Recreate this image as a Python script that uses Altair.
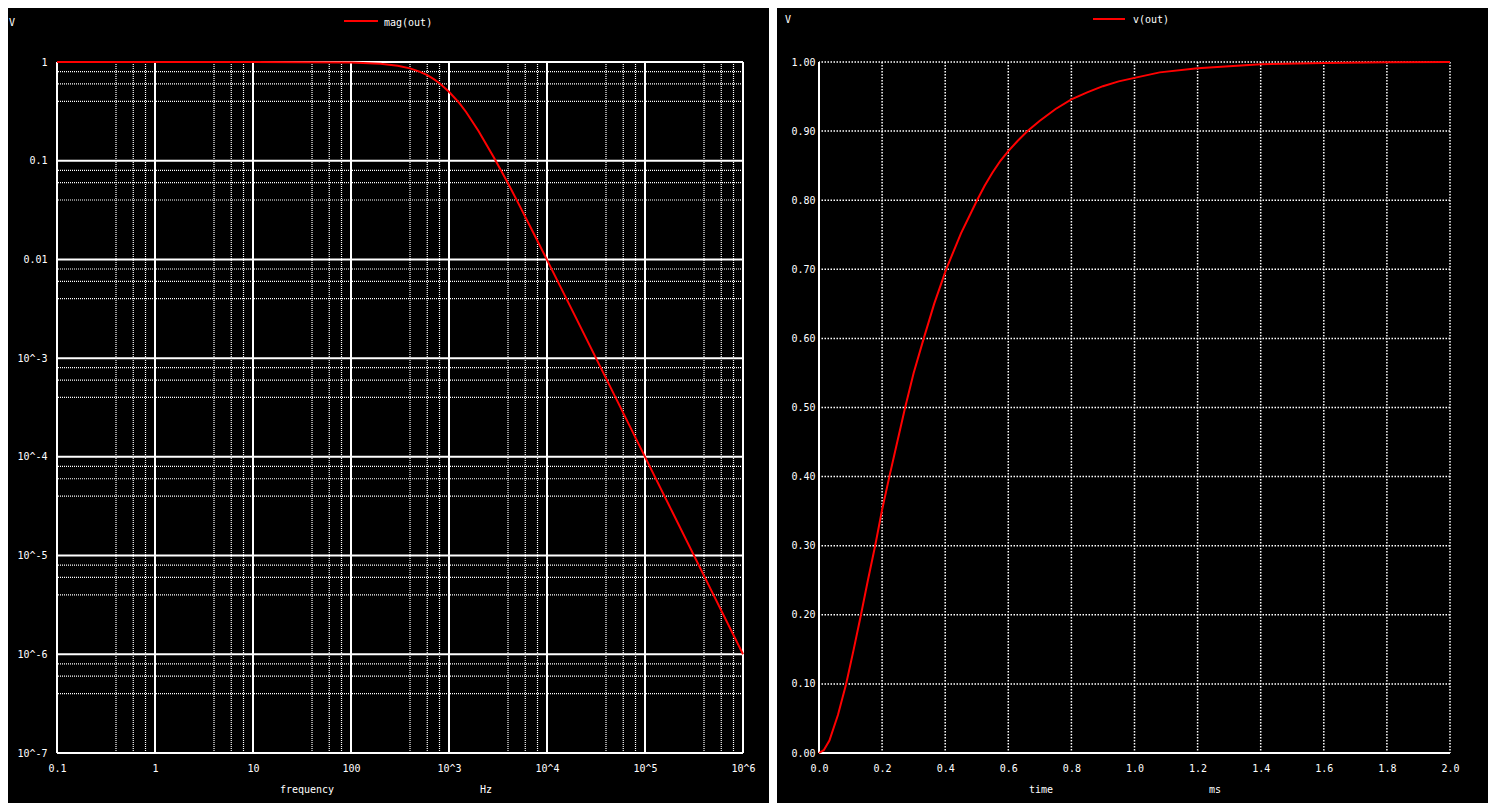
import json
import altair as alt
import pandas as pd

# ---------------- data ----------------
# AC analysis: mag(out) vs frequency (Hz)
freq = [0.1, 1, 10, 100, 200, 300, 400, 500, 600, 700, 800, 1000, 1270, 1500,
        2000, 2900, 4000, 5000, 7000, 10000, 20000, 50000, 100000, 200000,
        500000, 1000000]
mag = [1.0, 1.0, 1.0, 0.99, 0.962, 0.917, 0.862, 0.80, 0.735, 0.671, 0.61,
       0.50, 0.385, 0.31, 0.20, 0.106, 0.059, 0.0385, 0.020, 0.0099, 0.0025,
       0.0004, 0.0001, 0.000025, 0.000004, 0.000001]

# transient: v(out) vs time (ms)
time_ms = [0.0, 0.015, 0.033, 0.06, 0.086, 0.11, 0.133, 0.155, 0.178, 0.2,
           0.223, 0.248, 0.273, 0.30, 0.332, 0.365, 0.403, 0.45, 0.501, 0.525,
           0.55, 0.575, 0.60, 0.63, 0.661, 0.70, 0.75, 0.80, 0.85, 0.90, 0.95,
           1.00, 1.08, 1.2, 1.3, 1.4, 1.6, 1.8, 2.0]
v_out = [0.0, 0.004, 0.018, 0.055, 0.10, 0.15, 0.20, 0.25, 0.30, 0.352,
         0.40, 0.45, 0.50, 0.55, 0.60, 0.65, 0.70, 0.752, 0.80, 0.821,
         0.84, 0.857, 0.871, 0.886, 0.90, 0.915, 0.932, 0.946, 0.956, 0.965,
         0.972, 0.977, 0.985, 0.991, 0.994, 0.9967, 0.9986, 0.9995, 1.0]

# tick / grid positions and labels
x_major = [0.1, 1, 10, 100, 1000, 10000, 100000, 1000000]
x_major_labels = ["0.1", "1", "10", "100", "10^3", "10^4", "10^5", "10^6"]
y_major = [1e-7, 1e-6, 1e-5, 1e-4, 1e-3, 0.01, 0.1, 1]
y_major_labels = ["10^-7", "10^-6", "10^-5", "10^-4", "10^-3", "0.01", "0.1", "1"]
minor_mult = [4, 6, 8]
x_minor = [d * m for d in x_major[:-1] for m in minor_mult]
y_minor = [d * m for d in y_major[:-1] for m in minor_mult]

t_ticks = [0.0, 0.2, 0.4, 0.6, 0.8, 1.0, 1.2, 1.4, 1.6, 1.8, 2.0]
v_ticks = [0.0, 0.1, 0.2, 0.3, 0.4, 0.5, 0.6, 0.7, 0.8, 0.9, 1.0]

FONT = "DejaVu Sans Mono"
FS = 10
RED = "#ff0000"
LW, LH = 686, 691
RW, RH = 631, 691

one = pd.DataFrame({"k": [0]})


def label_expr(values, labels):
    return f"{json.dumps(labels)}[indexof({json.dumps(values)}, datum.value)]"


def txt(s, x, y, align="left"):
    return alt.Chart(one).mark_text(text=s, font=FONT, fontSize=FS, color="white",
                                    align=align, baseline="middle").encode(
        x=alt.value(x), y=alt.value(y))


def rect(x, x2, y, y2, color):
    return alt.Chart(one).mark_rect(color=color).encode(
        x=alt.value(x), x2=alt.value(x2), y=alt.value(y), y2=alt.value(y2))


def legend(x1, x2, y, label, tx, ty):
    r = alt.Chart(one).mark_rule(color=RED, strokeWidth=2).encode(
        x=alt.value(x1), x2=alt.value(x2), y=alt.value(y))
    return r + txt(label, tx, ty)


# ---------------- left panel ----------------
xs_l = alt.Scale(type="log", domain=[0.1, 1e6], nice=False)
ys_l = alt.Scale(type="log", domain=[1e-7, 1], nice=False)
ax_lx = alt.Axis(values=x_major, labelExpr=label_expr(x_major, x_major_labels),
                 title=None, labelPadding=10, labelBaseline="top")
ax_ly = alt.Axis(values=y_major, labelExpr=label_expr(y_major, y_major_labels),
                 title=None, labelPadding=10)

l_minor_x = alt.Chart(pd.DataFrame({"f": x_minor})).mark_rule(
    color="white", strokeWidth=1.2, strokeDash=[1, 1]).encode(
    x=alt.X("f:Q", scale=xs_l, axis=ax_lx))
l_minor_y = alt.Chart(pd.DataFrame({"v": y_minor})).mark_rule(
    color="white", strokeWidth=1.2, strokeDash=[1, 1]).encode(
    y=alt.Y("v:Q", scale=ys_l, axis=ax_ly))
l_major_x = alt.Chart(pd.DataFrame({"f": x_major})).mark_rule(
    color="white", strokeWidth=2).encode(x=alt.X("f:Q", scale=xs_l, axis=ax_lx))
l_major_y = alt.Chart(pd.DataFrame({"v": y_major})).mark_rule(
    color="white", strokeWidth=2).encode(y=alt.Y("v:Q", scale=ys_l, axis=ax_ly))

l_line = alt.Chart(pd.DataFrame({"f": freq, "v": mag})).mark_line(
    color=RED, strokeWidth=2).encode(
    x=alt.X("f:Q", scale=xs_l, axis=ax_lx),
    y=alt.Y("v:Q", scale=ys_l, axis=ax_ly),
)

left = alt.layer(
    rect(-49, -48, -54, -53, "black"),
    rect(712, 720, -54, 741, "white"),
    l_minor_x, l_minor_y, l_major_x, l_major_y, l_line,
    txt("V", -48, -39),
    legend(287, 321, -41, "mag(out)", 327, -39),
    txt("frequency", 250, 728, "center"),
    txt("Hz", 429, 728, "center"),
).properties(width=LW, height=LH)

# ---------------- right panel ----------------
xs_r = alt.Scale(domain=[0, 2.0], nice=False)
ys_r = alt.Scale(domain=[0, 1.0], nice=False)
ax_rx = alt.Axis(values=t_ticks, format=".1f", title=None, labelPadding=10,
                 labelBaseline="top")
ax_ry = alt.Axis(values=v_ticks, format=".2f", title=None, labelPadding=4)

r_grid_x = alt.Chart(pd.DataFrame({"t": t_ticks[1:]})).mark_rule(
    color="white", strokeWidth=1.5, strokeDash=[1.5, 1.5]).encode(
    x=alt.X("t:Q", scale=xs_r, axis=ax_rx))
r_grid_y = alt.Chart(pd.DataFrame({"v": v_ticks[1:]})).mark_rule(
    color="white", strokeWidth=1.5, strokeDash=[1.5, 1.5]).encode(
    y=alt.Y("v:Q", scale=ys_r, axis=ax_ry))
r_axis_x = alt.Chart(pd.DataFrame({"t": [0.0]})).mark_rule(
    color="white", strokeWidth=2).encode(x=alt.X("t:Q", scale=xs_r, axis=ax_rx))
r_axis_y = alt.Chart(pd.DataFrame({"v": [0.0]})).mark_rule(
    color="white", strokeWidth=2).encode(y=alt.Y("v:Q", scale=ys_r, axis=ax_ry))

r_line = alt.Chart(pd.DataFrame({"t": time_ms, "v": v_out})).mark_line(
    color=RED, strokeWidth=2).encode(
    x=alt.X("t:Q", scale=xs_r, axis=ax_rx),
    y=alt.Y("v:Q", scale=ys_r, axis=ax_ry),
)

right = alt.layer(
    rect(668, 669, 734, 735, "black"),
    r_grid_x, r_grid_y, r_axis_x, r_axis_y, r_line,
    txt("V", -34, -42),
    legend(274, 306, -43, "v(out)", 314, -42),
    txt("time", 222, 728, "center"),
    txt("ms", 396, 728, "center"),
).properties(width=RW, height=RH)

chart = alt.hconcat(left, right, spacing=76, bounds="flush").properties(
    padding=0, background="black"
).configure_view(strokeWidth=0).configure_axis(
    labelFont=FONT, labelFontSize=FS, labelColor="white", domain=False,
    ticks=False, grid=False, labelFlush=False, labelOverlap=False,
    labelBound=False, zindex=1,
)

chart.save("out.html", embed_options={"renderer": "svg", "actions": False})
